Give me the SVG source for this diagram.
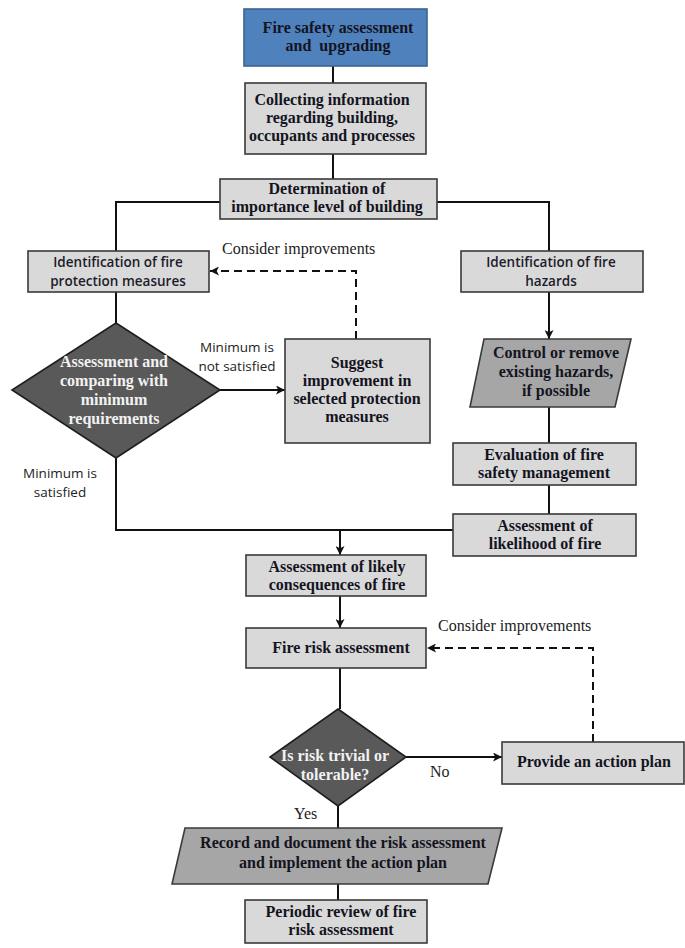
<svg xmlns="http://www.w3.org/2000/svg" width="685" height="948" viewBox="0 0 685 948">
<defs>
<style>
.box{fill:#d9d9d9;stroke:#3a3a3a;stroke-width:1.6}
.blue{fill:#4f81bd;stroke:#3b6391;stroke-width:1.6}
.dia{fill:#595959;stroke:#1e1e1e;stroke-width:1.6}
.para{fill:#a6a6a6;stroke:#3a3a3a;stroke-width:1.6}
.t{font-family:"Liberation Serif","Times New Roman",serif;font-weight:bold;font-size:16px;fill:#14141e;text-anchor:middle}
.tw{font-family:"Liberation Serif","Times New Roman",serif;font-weight:bold;font-size:16px;fill:#f2f2f2;text-anchor:middle}
.s{font-family:"Open Sans","Noto Sans",sans-serif;font-weight:600;font-size:13.5px;fill:#1c1c2a;text-anchor:middle}
.lab{font-family:"Open Sans","Noto Sans",sans-serif;font-size:13.5px;fill:#222;text-anchor:middle}
.lser{font-family:"Liberation Serif","Times New Roman",serif;font-size:16px;fill:#222}
.c{fill:none;stroke:#111;stroke-width:2}
.d{fill:none;stroke:#111;stroke-width:2;stroke-dasharray:8 5}
</style>
<marker id="ah" viewBox="0 0 10 10" refX="10" refY="5" markerWidth="9" markerHeight="9" markerUnits="userSpaceOnUse" orient="auto">
<path d="M0,0 L10,5 L0,10 L2.5,5 z" fill="#111"/>
</marker>
</defs>

<g id="connectors">
<path class="c" d="M333,66 V83"/>
<path class="c" d="M333,154 V179"/>
<path class="c" d="M220,202 H116 V251"/>
<path class="c" d="M437,202 H549 V251"/>
<path class="c" d="M549,292 V339" marker-end="url(#ah)"/>
<path class="c" d="M549,407 V443"/>
<path class="c" d="M549,485 V514"/>
<path class="c" d="M116,292 V323"/>
<path class="c" d="M220,390 H285" marker-end="url(#ah)"/>
<path class="d" d="M356,339 V271 H210" marker-end="url(#ah)"/>
<path class="c" d="M116,458 V530 H453"/>
<path class="c" d="M340,530 V555" marker-end="url(#ah)"/>
<path class="c" d="M340,596 V628" marker-end="url(#ah)"/>
<path class="c" d="M340,668 V709"/>
<path class="c" d="M406,757 H502" marker-end="url(#ah)"/>
<path class="d" d="M593,742 V648 H427" marker-end="url(#ah)"/>
<path class="c" d="M338,806 V828"/>
<path class="c" d="M338,884 V900"/>
</g>

<g id="labels">
<text class="lser" x="222" y="254">Consider improvements</text>
<text class="lser" x="438" y="631">Consider improvements</text>
<text class="lab" x="237" y="352">Minimum is</text>
<text class="lab" x="237" y="370.5">not satisfied</text>
<text class="lab" x="60" y="478">Minimum is</text>
<text class="lab" x="60" y="496.5">satisfied</text>
<text class="lser" x="430" y="777">No</text>
<text class="lser" x="294" y="819">Yes</text>
</g>

<g id="n_start">
<rect class="blue" x="244" y="9" width="183" height="57"/>
<text class="t" x="338" y="33">Fire safety assessment</text>
<text class="t" x="338" y="51" xml:space="preserve">and  upgrading</text>
</g>

<g id="n_collect">
<rect class="box" x="245" y="83" width="181" height="71"/>
<text class="t" x="332" y="105">Collecting information</text>
<text class="t" x="332" y="123">regarding building,</text>
<text class="t" x="332" y="141">occupants and processes</text>
</g>

<g id="n_importance">
<rect class="box" x="220" y="179" width="217" height="40"/>
<text class="t" x="327" y="194">Determination of</text>
<text class="t" x="327" y="212">importance level of building</text>
</g>

<g id="n_protection">
<rect class="box" x="28" y="251" width="181" height="41"/>
<text class="s" x="118" y="267">Identification of fire</text>
<text class="s" x="118" y="285.5">protection measures</text>
</g>

<g id="n_hazards">
<rect class="box" x="461" y="251" width="182" height="41"/>
<text class="s" x="551" y="267">Identification of fire</text>
<text class="s" x="551" y="285.5">hazards</text>
</g>

<g id="n_compare">
<polygon class="dia" points="116,323 220,390 116,458 12,390"/>
<text class="tw" x="114" y="367">Assessment and</text>
<text class="tw" x="114" y="386">comparing with</text>
<text class="tw" x="114" y="405">minimum</text>
<text class="tw" x="114" y="424">requirements</text>
</g>

<g id="n_suggest">
<rect class="box" x="285" y="339" width="145" height="104"/>
<text class="t" x="357" y="368">Suggest</text>
<text class="t" x="357" y="386">improvement in</text>
<text class="t" x="357" y="404">selected protection</text>
<text class="t" x="357" y="422">measures</text>
</g>

<g id="n_control">
<polygon class="para" points="484,339 631,339 615,407 470,407"/>
<text class="t" x="556" y="358">Control or remove</text>
<text class="t" x="556" y="377">existing hazards,</text>
<text class="t" x="556" y="396">if possible</text>
</g>

<g id="n_management">
<rect class="box" x="453" y="443" width="183" height="42"/>
<text class="t" x="544" y="460">Evaluation of fire</text>
<text class="t" x="544" y="478">safety management</text>
</g>

<g id="n_likelihood">
<rect class="box" x="453" y="514" width="183" height="42"/>
<text class="t" x="545" y="531">Assessment of</text>
<text class="t" x="545" y="549">likelihood of fire</text>
</g>

<g id="n_consequences">
<rect class="box" x="246" y="555" width="180" height="41"/>
<text class="t" x="337" y="571.5">Assessment of likely</text>
<text class="t" x="337" y="589.5">consequences of fire</text>
</g>

<g id="n_risk">
<rect class="box" x="246" y="628" width="180" height="40"/>
<text class="t" x="341" y="653">Fire risk assessment</text>
</g>

<g id="n_tolerable">
<polygon class="dia" points="338,709 406,757 338,806 270,757"/>
<text class="tw" x="335" y="761">Is risk trivial or</text>
<text class="tw" x="335" y="780">tolerable?</text>
</g>

<g id="n_action">
<rect class="box" x="502" y="742" width="182" height="42"/>
<text class="t" x="594" y="767">Provide an action plan</text>
</g>

<g id="n_record">
<polygon class="para" points="185,828 502,828 488,884 172,884"/>
<text class="t" x="343" y="848">Record and document the risk assessment</text>
<text class="t" x="343" y="868">and implement the action plan</text>
</g>

<g id="n_review">
<rect class="box" x="245" y="900" width="182" height="43"/>
<text class="t" x="341" y="917">Periodic review of fire</text>
<text class="t" x="341" y="935">risk assessment</text>
</g>
</svg>
